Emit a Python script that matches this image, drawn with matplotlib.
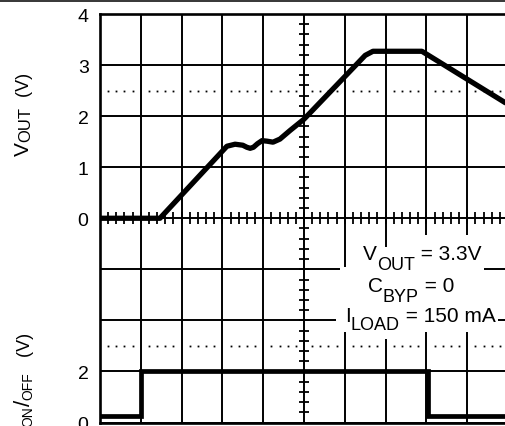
import numpy as np
import matplotlib
matplotlib.use("Agg")
import matplotlib.pyplot as plt
from matplotlib.font_manager import FontProperties
from matplotlib.lines import Line2D
from matplotlib.patches import Rectangle

FONT = "Liberation Sans"
plt.rcParams["font.family"] = FONT

# ─── Data (time in scope divisions, volts) ──────────────────
T_VOUT = [0.0, 1.47, 3.11, 3.31, 3.50, 3.60, 3.68, 3.76, 3.86, 3.97, 4.09,
          4.24, 4.41, 4.66, 5.0, 6.50, 6.69, 7.89, 10.0]
V_OUT = [0.0, 0.0, 1.41, 1.45, 1.43, 1.39, 1.37, 1.39, 1.46, 1.52, 1.51,
         1.49, 1.55, 1.72, 1.94, 3.19, 3.27, 3.27, 2.23]

T_ONOFF = [0.0, 1.0, 1.0, 8.03, 8.03, 10.0]
V_ONOFF = [0.25, 0.25, 2.0, 2.0, 0.25, 0.25]

ONOFF_OFFSET = -4          # lower trace zero sits 4 divisions below the upper one
ONOFF_V_PER_DIV = 2.0      # lower trace scale
VOUT_DOT_LEVEL = 2.5       # dotted marker level, upper trace (V)
ONOFF_DOT_LEVEL = 3.0      # dotted marker level, lower trace (V)

YTICKS = [4, 3, 2, 1, 0, -3, -4]
YTICK_LABELS = ["4", "3", "2", "1", "0", "2", "0"]

W_PX, H_PX = 506, 427


def onoff_div(v):
    return np.asarray(v) / ONOFF_V_PER_DIV + ONOFF_OFFSET


def sub_text(fig, x, y, pieces, rot=0, box=False, align="start", lead=0, trail=0):
    """Draw text made of (string, size_pt, drop_px) pieces; x, y in px from bottom-left."""
    r = fig.canvas.get_renderer()

    def advance(s, size):
        prop = FontProperties(family=FONT, size=size)
        w_full = r.get_text_width_height_descent("x" + s + "x", prop, ismath=False)[0]
        w_xx = r.get_text_width_height_descent("xx", prop, ismath=False)[0]
        return w_full - w_xx

    widths = [advance(s, size) for s, size, _ in pieces]
    th = np.deg2rad(rot)
    ux, uy = np.cos(th), np.sin(th)
    dx, dy = np.sin(th), -np.cos(th)
    if align == "end":
        total = sum(widths)
        x, y = x - ux * total, y - uy * total
    for i, ((s, size, drop), w) in enumerate(zip(pieces, widths)):
        bx, by = x + dx * drop, y + dy * drop
        if box:
            em = size * 100 / 72
            left = bx - 3 - (lead if i == 0 else 0)
            right = bx + w + 3 + (trail if i == len(pieces) - 1 else 0)
            bottom = by - 0.22 * em - 6
            top = by + 0.74 * em + 9
            fig.add_artist(Rectangle((left / W_PX, bottom / H_PX),
                                     (right - left) / W_PX, (top - bottom) / H_PX,
                                     transform=fig.transFigure, fc="white", ec="none",
                                     zorder=3))
        fig.text(bx / W_PX, by / H_PX, s, rotation=rot, rotation_mode="anchor",
                 ha="left", va="baseline", fontsize=size, family=FONT, zorder=4)
        x += ux * w
        y += uy * w


fig = plt.figure(figsize=(W_PX / 100, H_PX / 100), dpi=100)
ax = fig.add_axes([100 / W_PX, 3.5 / H_PX, 408 / W_PX, 408.5 / H_PX])

ax.set_xlim(0, 10)
ax.set_ylim(-4, 4)
ax.set_xticks(range(0, 11))
ax.set_xticklabels([])
ax.set_yticks(range(-4, 5))
ax.set_yticklabels([YTICK_LABELS[YTICKS.index(v)] if v in YTICKS else "" for v in range(-4, 5)])
ax.tick_params(length=0, labelsize=14, pad=8.2)
ax.grid(True, color="black", linewidth=1.4)
ax.set_axisbelow(True)
for sp in ax.spines.values():
    sp.set_linewidth(1.9)

# centre-line graticule ticks
minor = np.arange(0, 10.001, 0.2)
ax.plot(minor, np.zeros_like(minor), ls="none", marker="|", ms=8, mew=1.3, color="black")
minor_y = np.arange(-4, 4.001, 0.2)
ax.plot(np.full_like(minor_y, 5.0), minor_y, ls="none", marker="_", ms=6.5, mew=1.3, color="black")

# dotted level markers
dots = np.array([v for v in np.arange(0, 10.001, 0.2) if abs(v - round(v)) > 1e-6])
for lvl in [VOUT_DOT_LEVEL, onoff_div(ONOFF_DOT_LEVEL)]:
    ax.plot(dots, np.full_like(dots, lvl), ls="none", marker="s", ms=1.3, mew=0, color="black")

# traces
ax.plot(T_VOUT, V_OUT, color="black", lw=3.8, solid_joinstyle="round", solid_capstyle="butt")
ax.plot(T_ONOFF, onoff_div(V_ONOFF), color="black", lw=3.4, solid_joinstyle="miter")

# frame line across the top of the picture
fig.add_artist(Line2D([0, 1], [1 - 1.6 / H_PX] * 2, transform=fig.transFigure,
                      color="black", lw=1.1))

# axis labels (rotated, with subscripts)
sub_text(fig, 29, H_PX - 73, [("V", 15, 0), ("OUT", 12, 1.5), ("  (V)", 13, 0)],
         rot=90, align="end")
sub_text(fig, 30, H_PX - 333, [("V", 15, 0), ("ON", 10, 2), ("/", 16, 0), ("OFF", 10, 2),
                               ("   (V)", 13, 0)],
         rot=90, align="end")

# test conditions
sub_text(fig, 363, H_PX - 260, [("V", 15, 0), ("OUT", 13, 10), (" = 3.3V", 15, 0)],
         box=True, lead=12)
sub_text(fig, 368, H_PX - 292, [("C", 15, 0), ("BYP", 13, 10), (" = 0", 15, 0)],
         box=True, lead=25, trail=25)
sub_text(fig, 345, H_PX - 322, [("I", 15, 0), ("LOAD", 13, 8), (" = 150 mA", 15, 0)],
         box=True, lead=6)

fig.savefig("out.png", dpi=100)
